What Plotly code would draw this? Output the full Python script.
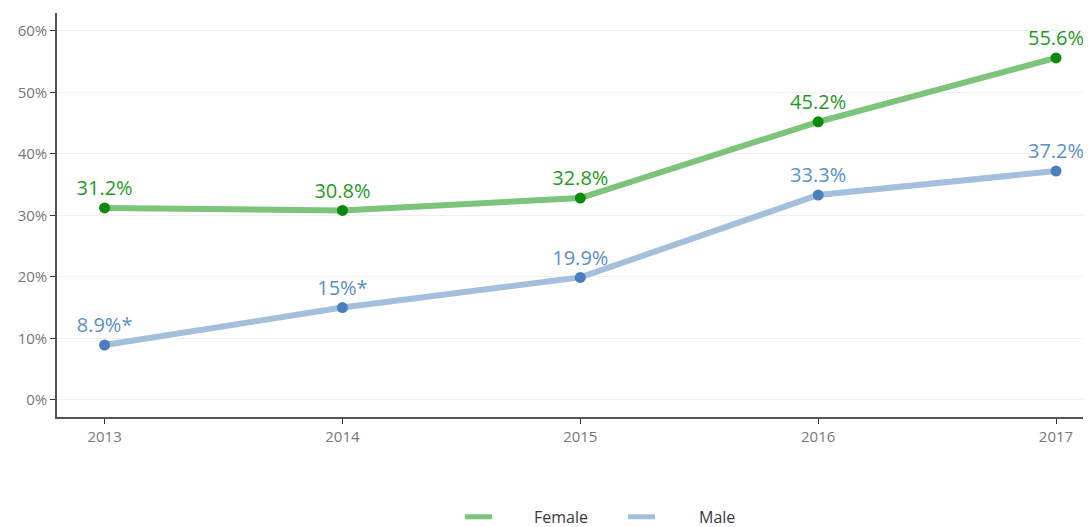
import plotly.graph_objects as go

years = [2013, 2014, 2015, 2016, 2017]
female = [31.2, 30.8, 32.8, 45.2, 55.6]
male = [8.9, 15.0, 19.9, 33.3, 37.2]
female_labels = ["31.2%", "30.8%", "32.8%", "45.2%", "55.6%"]
male_labels = ["8.9%*", "15%*", "19.9%", "33.3%", "37.2%"]
y_ticks = [0, 10, 20, 30, 40, 50, 60]
y_tick_labels = ["0%", "10%", "20%", "30%", "40%", "50%", "60%"]

FONT = "Open Sans"
fig = go.Figure()

series = [
    ("Female", female, female_labels, "#7cc47a", "#0a8a0a", "#1f9a1f"),
    ("Male", male, male_labels, "#a3bfdb", "#4a7fbe", "#5a8fc6"),
]
for name, vals, labels, lc, mc, tc in series:
    fig.add_trace(go.Scatter(
        x=years, y=vals, mode="lines", name=name,
        line=dict(color=lc, width=6), showlegend=False,
    ))
for name, vals, labels, lc, mc, tc in series:
    fig.add_trace(go.Scatter(
        x=years, y=vals, mode="markers+text", name=name,
        marker=dict(color=mc, size=11),
        text=labels, textposition="top center",
        textfont=dict(color=tc, size=20, family=FONT),
        showlegend=False, cliponaxis=False,
    ))

# manual legend (paper coordinates)
legend_items = [
    ("Female", "#7cc47a", 0.3946, 0.4207, 0.4594),
    ("Male", "#a3bfdb", 0.5522, 0.5783, 0.6190),
]
ly = -0.247
for name, col, x0, x1, xt in legend_items:
    fig.add_shape(type="line", xref="paper", yref="paper", x0=x0, x1=x1, y0=ly, y1=ly,
                  line=dict(color=col, width=5))
    fig.add_annotation(xref="paper", yref="paper", x=xt, y=ly, text=name,
                       showarrow=False, xanchor="left", yanchor="middle",
                       font=dict(size=16, color="#3a3a3a", family=FONT))

fig.update_layout(
    width=1083, height=519,
    margin=dict(l=49, r=0, t=5, b=110),
    paper_bgcolor="white", plot_bgcolor="white",
    font=dict(family=FONT, color="#777777", size=15),
    showlegend=False,
    xaxis=dict(
        range=[2012.8, 2017.147], tickvals=years, ticktext=[str(y) for y in years],
        showgrid=False, showline=True, linecolor="#555555", linewidth=1.5,
        ticks="outside", ticklen=5, tickcolor="#333333", zeroline=False,
        tickfont=dict(size=15, color="#777777"),
    ),
    yaxis=dict(
        range=[-2.8, 62.9], tickvals=y_ticks, ticktext=y_tick_labels,
        showgrid=True, gridcolor="#f0f0f0", gridwidth=1,
        showline=True, linecolor="#555555", linewidth=1.5,
        ticks="outside", ticklen=5, tickcolor="#333333", zeroline=False,
        tickfont=dict(size=15, color="#777777"),
    ),
)

fig.write_html("out.html")
